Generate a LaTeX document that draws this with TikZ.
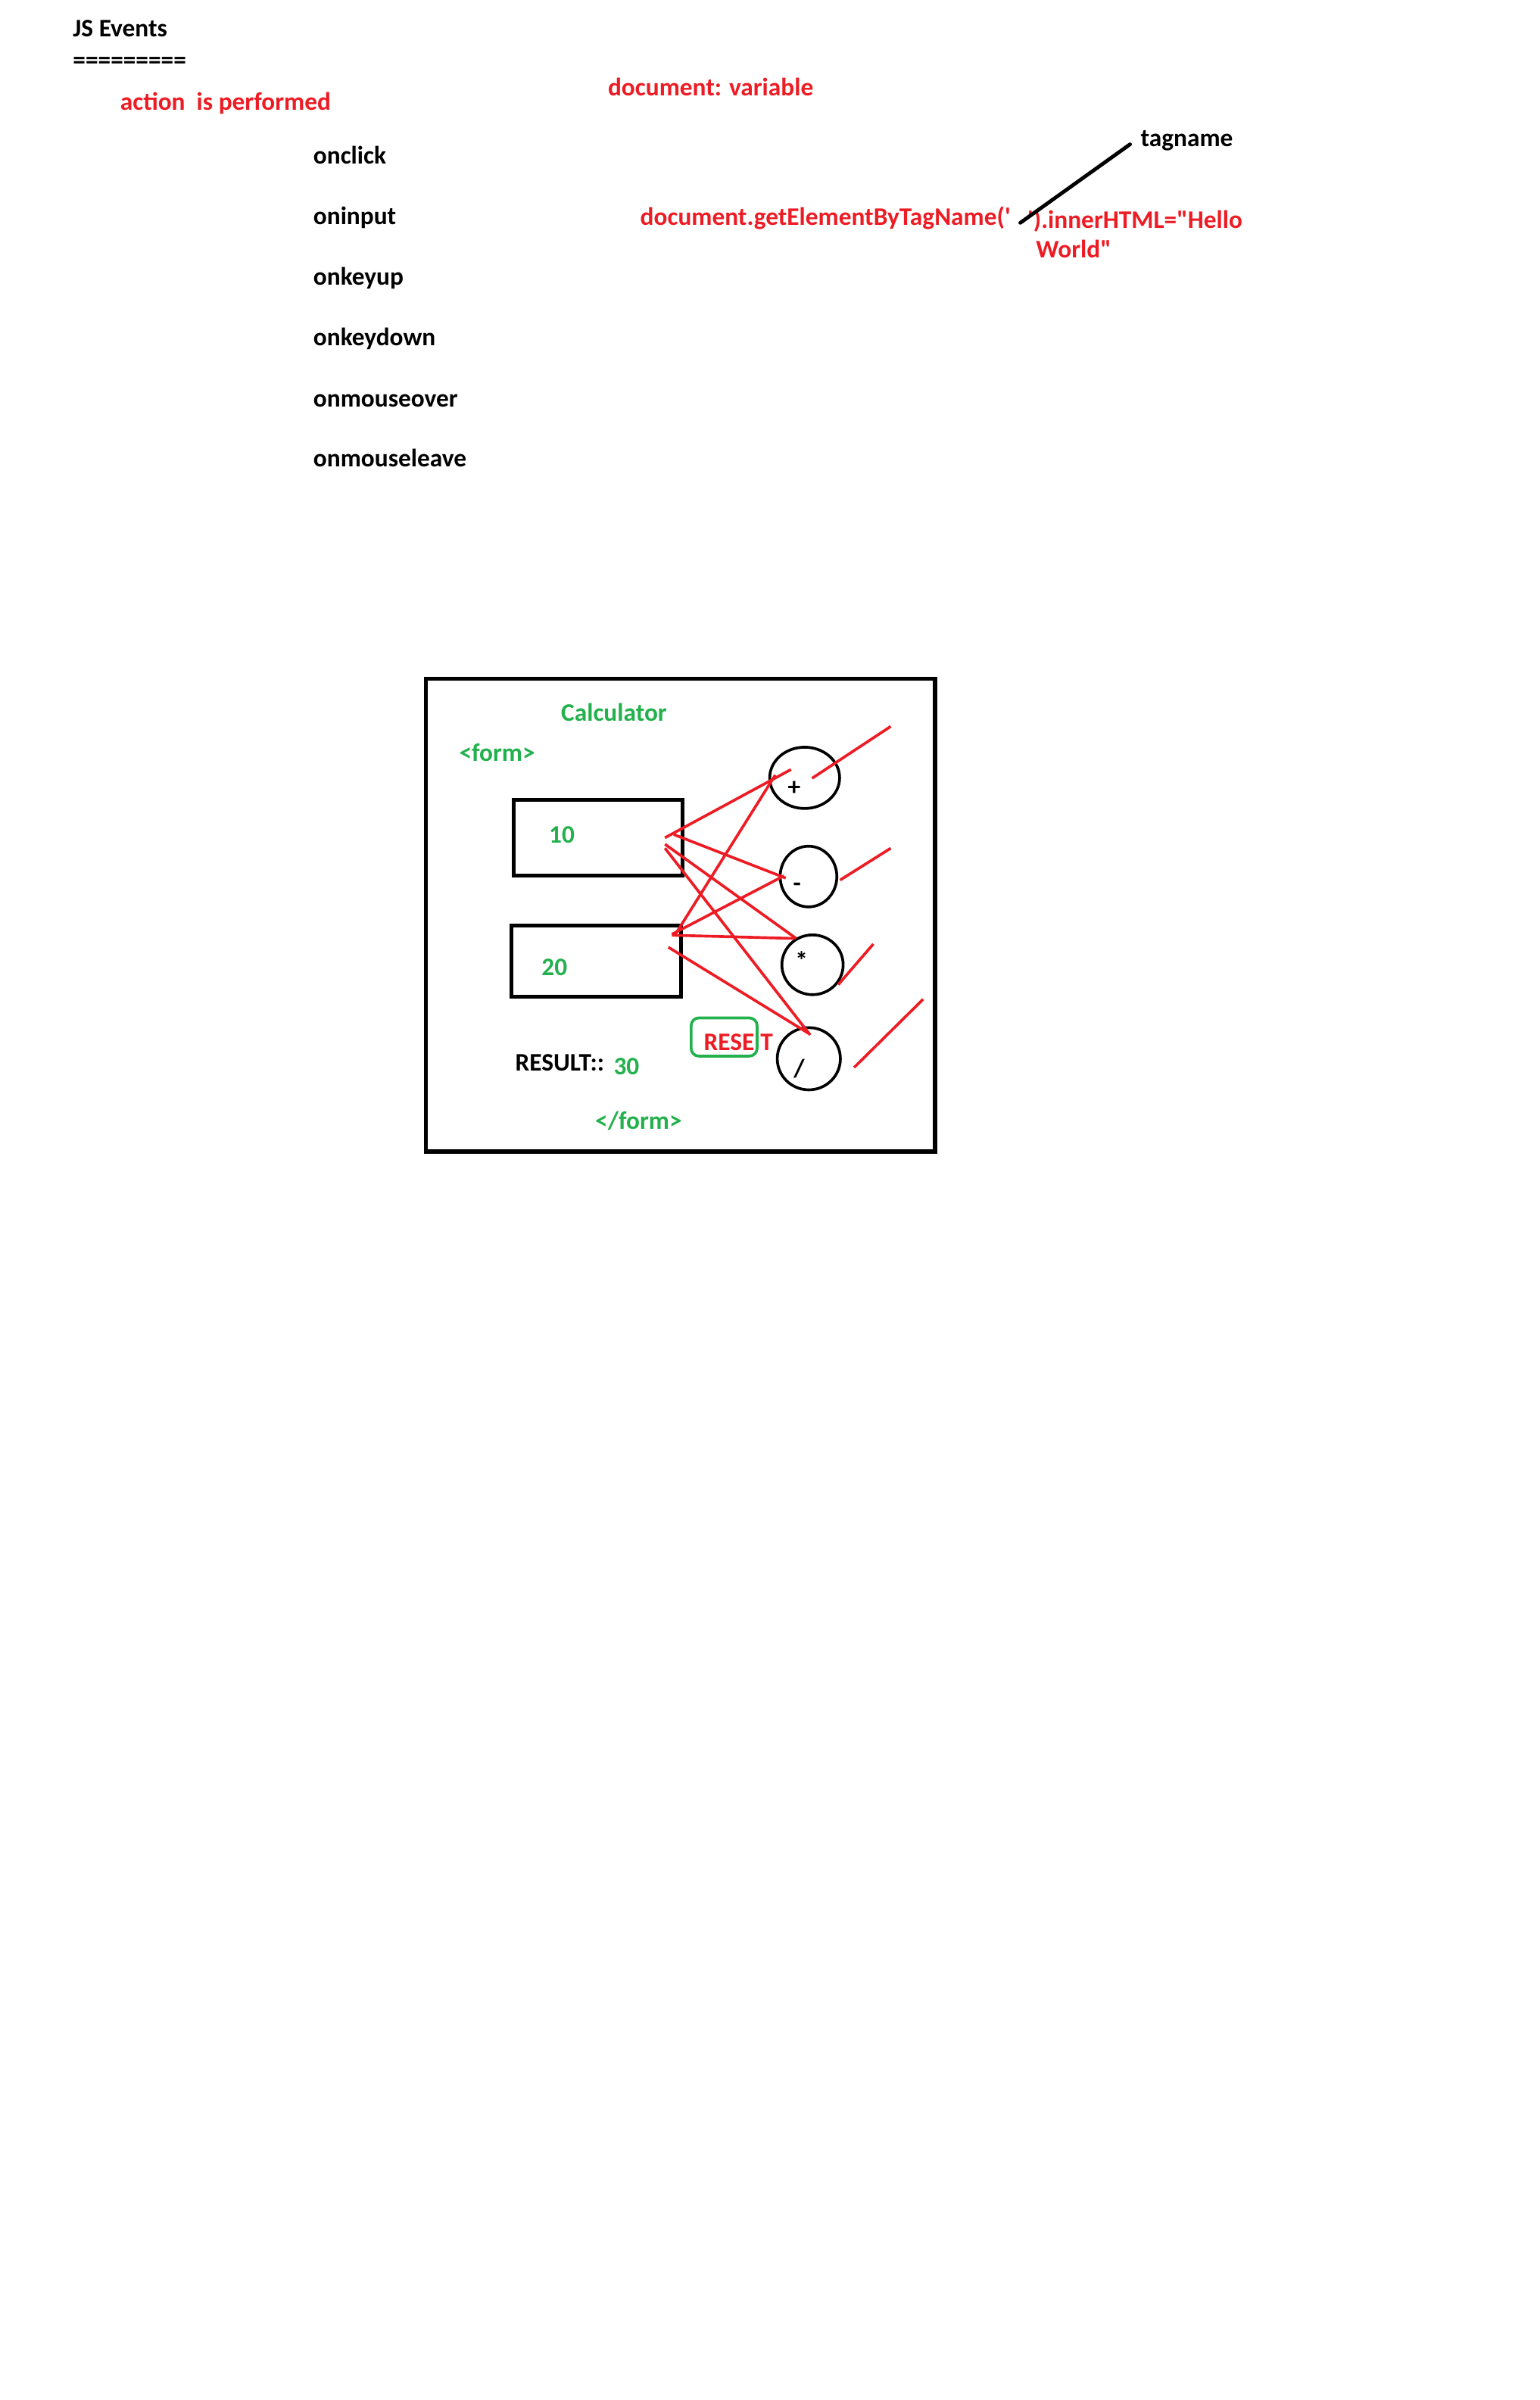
\documentclass[tikz,border=0pt]{standalone}
\usepackage{fontspec}
\setmainfont{Carlito}
\usepackage{xcolor}
\usetikzlibrary{shapes.geometric}
\definecolor{pred}{RGB}{237,28,36}
\definecolor{pgreen}{RGB}{34,177,76}

\tikzset{
  txt/.style={anchor=base west, inner sep=0pt},
  redtxt/.style={txt, text=pred},
  greentxt/.style={txt, text=pgreen},
  sign/.style={anchor=center, inner sep=0pt},
  field/.style={draw, line width=2.4pt, inner sep=0pt},
  opbtn/.style={draw, ellipse, line width=1.8pt, inner sep=0pt},
  wire/.style={pred, line width=1.8pt}
}

\begin{document}
\begin{tikzpicture}[x=1pt, y=-1pt, font=\fontsize{16.4}{19}\selectfont\bfseries]
\useasboundingbox (0,0) rectangle (1000,1558.5);

\node[txt] (title) at (47.2,23.8) {JS Events};
\node[txt] (rule) at (47.2,44.4) {=========};
\node[redtxt] (action) at (77.9,71.4) {action\ \ is performed};
\node[redtxt] (docvar) at (394.6,62.1) {document: variable};
\foreach \ev/\y in {onclick/106.6, oninput/145.9, onkeyup/185.2, onkeydown/224.5, onmouseover/264.2, onmouseleave/303.1}
  \node[txt] (\ev) at (203.3,\y) {\ev};

\node[redtxt] (getel) at (415.6,146.5) {document.getElementByTagName(\textquotesingle};
\node[redtxt] (inner) at (667,148) {\textquotesingle).innerHTML=\textquotedbl Hello};
\node[redtxt] (world) at (672.6,167.2) {World\textquotedbl};
\node[txt] (tag) at (740.5,95.3) {tagname};
\coordinate (gap) at (662.5,144.7);
\coordinate (tagend) at (733.8,93.7);
\draw[line width=2.4pt, line cap=round] (gap) -- (tagend);

\node[draw, line width=2.7pt, inner sep=0pt, minimum width=330.6, minimum height=307] (frame) at (441.95,594.25) {};
\node[greentxt] (calc) at (364.2,468.1) {Calculator};
\node[greentxt] (formopen) at (298,494.2) {<form>};
\node[field, minimum width=109.7, minimum height=49.4] (num1) at (388.25,543.9) {};
\node[field, minimum width=110, minimum height=46.1] (num2) at (387.2,624.25) {};
\node[greentxt] (val1) at (356.3,547.6) {10};
\node[greentxt] (val2) at (351.5,633.5) {20};
\node[txt] (result) at (334.4,695.3) {RESULT::};
\node[greentxt] (resval) at (398.3,698) {30};
\node[greentxt] (formclose) at (386.3,733.3) {</form>};
\draw[pgreen, line width=1.8pt, rounded corners=5pt] (448.8,661) rectangle (491.6,685.8);
\node[redtxt] (reset) at (456.8,682) {RESE\hspace{4pt}T};

\node[opbtn, minimum width=45.4, minimum height=39.8] (plus) at (522.5,505.1) {};
\node[opbtn, minimum width=36.8, minimum height=39.4] (minus) at (525,569.2) {};
\node[opbtn, minimum width=39.8, minimum height=38.8] (times) at (527.6,626.5) {};
\node[opbtn, minimum width=41, minimum height=40.4] (divide) at (525.2,687.5) {};
\node[sign] (plussign) at (515.7,511.7) {+};
\node[sign] (minussign) at (517.6,576.2) {-};
\node[sign] (timessign) at (520.5,623.9) {*};
\node[sign] (dividesign) at (519,694) {/};

\coordinate (w1) at (431.8,544.0);
\coordinate (w2) at (437.5,541.9);
\coordinate (w3) at (431.8,548.2);
\coordinate (w4) at (431.8,550.8);
\coordinate (v1) at (438.6,606.7);
\coordinate (v2) at (436.3,606.7);
\coordinate (v3) at (436.3,607.3);
\coordinate (v4) at (434.0,615.1);
\coordinate (pa) at (513.6,499.7);
\coordinate (pb) at (503.4,503.3);
\coordinate (ma) at (510.2,570.2);
\coordinate (mb) at (509.1,568.7);
\coordinate (ta) at (517.0,609.4);
\coordinate (tb) at (515.9,609.4);
\coordinate (da) at (526.1,672.1);
\coordinate (db) at (525.0,671.0);
\foreach \a/\b in {w1/pa, v1/pb, w2/ma, v2/mb, w3/ta, v3/tb, w4/da, v4/db}
  \draw[wire] (\a) -- (\b);

\coordinate (pin) at (527.3,505.4);
\coordinate (pout) at (578.4,471.7);
\coordinate (min) at (545.5,571.5);
\coordinate (mout) at (578.4,550.8);
\coordinate (tin) at (544.3,639.4);
\coordinate (tout) at (567.1,613.0);
\coordinate (din) at (554.6,693.2);
\coordinate (dout) at (599.4,648.9);
\foreach \a/\b in {pin/pout, min/mout, tin/tout, din/dout}
  \draw[wire] (\a) -- (\b);
\end{tikzpicture}
\end{document}
